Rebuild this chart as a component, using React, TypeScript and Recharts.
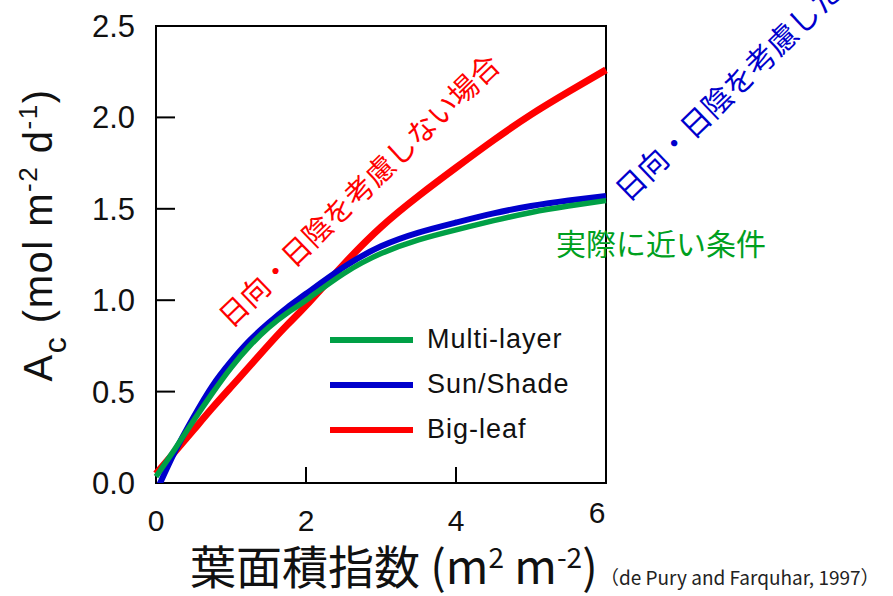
import React from 'react';
import { LineChart, Line, XAxis, YAxis, ReferenceArea, Legend } from 'recharts';

// Leaf area index (m2 m-2)
const lai = [0, 0.25, 0.5, 0.75, 1, 1.25, 1.5, 1.75, 2, 2.5, 3, 3.5, 4, 4.5, 5, 5.5, 6];
// Canopy assimilation Ac (mol m-2 d-1)
const multiLayer = [0.035, 0.185, 0.34, 0.49, 0.63, 0.75, 0.85, 0.93, 1.0, 1.145, 1.255, 1.33, 1.385, 1.435, 1.48, 1.515, 1.545];
const sunShade = [-0.05, 0.17, 0.36, 0.53, 0.665, 0.78, 0.875, 0.96, 1.035, 1.18, 1.295, 1.37, 1.425, 1.475, 1.515, 1.545, 1.57];
const bigLeaf = [0.05, 0.17, 0.29, 0.41, 0.525, 0.64, 0.755, 0.865, 0.97, 1.195, 1.4, 1.57, 1.725, 1.875, 2.015, 2.14, 2.26];

const xTicks = [0, 2, 4, 6];
const yTicks = [0, 0.5, 1, 1.5, 2, 2.5];
const seriesNames = ['Multi-layer', 'Sun/Shade', 'Big-leaf'];
const seriesColors = ['#00a046', '#0000cc', '#ff0000'];

const data = lai.map((x, i) => ({ lai: x, multi: multiLayer[i], sun: sunShade[i], big: bigLeaf[i] }));

const LATIN = '"Liberation Sans", Arial, sans-serif';
const CJK = '"Noto Sans CJK JP", "Noto Sans", sans-serif';

const YTick = (props: any) => {
  const { x, y, payload } = props;
  const v = payload.value as number;
  const mark = v > 0 && v < 2.5;
  return (
    <g>
      {mark && <line x1={x} x2={x + 19} y1={y} y2={y} stroke="#000" strokeWidth={2} />}
      <text x={x - 21} y={y + 11} textAnchor="end" fontSize={31} fontFamily={LATIN} fill="#111">
        {v.toFixed(1)}
      </text>
    </g>
  );
};

const XTick = (props: any) => {
  const { x, y, payload } = props;
  const v = payload.value as number;
  const last = v === 6;
  return (
    <g>
      {v > 0 && v < 6 && <line x1={x} x2={x} y1={y} y2={y - 16} stroke="#000" strokeWidth={2} />}
      <text x={last ? x - 9 : x} y={last ? y + 40 : y + 48} textAnchor="middle" fontSize={30} fontFamily={LATIN} fill="#111">
        {v}
      </text>
    </g>
  );
};

const LegendContent = (props: any) => {
  const payload = [...(props.payload || [])].sort(
    (a: any, b: any) => seriesNames.indexOf(a.value) - seriesNames.indexOf(b.value)
  );
  return (
    <div>
      {payload.map((p: any) => (
        <div key={p.value} style={{ display: 'flex', alignItems: 'center', height: 45 }}>
          <div style={{ width: 83, height: 6, background: p.color, marginRight: 14 }} />
          <span style={{ fontFamily: LATIN, fontSize: 27, letterSpacing: 1, color: '#111', lineHeight: '45px' }}>
            {p.value}
          </span>
        </div>
      ))}
    </div>
  );
};

export default function App() {
  return (
    <div style={{ position: 'absolute', left: 0, top: 0, width: 893, height: 596, background: '#fff' }}>
      <LineChart width={893} height={596} data={data} margin={{ top: 26, right: 287, bottom: 73, left: 0 }}>
        <XAxis
          dataKey="lai"
          type="number"
          domain={[0, 6]}
          ticks={xTicks}
          height={40}
          tickSize={0}
          tickMargin={0}
          axisLine={false}
          tickLine={false}
          tick={<XTick />}
          interval={0}
        />
        <YAxis
          type="number"
          domain={[0, 2.5]}
          ticks={yTicks}
          allowDataOverflow
          width={156}
          tickSize={0}
          tickMargin={0}
          axisLine={false}
          tickLine={false}
          tick={<YTick />}
          interval={0}
        />
        <ReferenceArea x1={0} x2={6} y1={0} y2={2.5} fill="none" fillOpacity={0} stroke="#000" strokeWidth={2} ifOverflow="visible" />
        <Line type="natural" dataKey="big" name={seriesNames[2]} stroke={seriesColors[2]} strokeWidth={7} dot={false} isAnimationActive={false} />
        <Line type="natural" dataKey="sun" name={seriesNames[1]} stroke={seriesColors[1]} strokeWidth={6} dot={false} isAnimationActive={false} />
        <Line type="natural" dataKey="multi" name={seriesNames[0]} stroke={seriesColors[0]} strokeWidth={5.5} dot={false} isAnimationActive={false} />
        <Legend
          layout="vertical"
          align="center"
          verticalAlign="middle"
          content={<LegendContent />}
          wrapperStyle={{ position: 'absolute', left: 330, top: 317, width: 280 }}
        />
      </LineChart>
      <svg width={893} height={596} style={{ position: 'absolute', left: 0, top: 0, pointerEvents: 'none' }}>
        <text transform="translate(52,235) rotate(-90)" textAnchor="middle" fontFamily={LATIN} fontSize={40} fill="#111" letterSpacing={1.5}>
          <tspan>A</tspan>
          <tspan dy={14} fontSize={32}>c</tspan>
          <tspan dy={-14}> (mol m</tspan>
          <tspan dy={-15} fontSize={26}>-2</tspan>
          <tspan dy={15}> d</tspan>
          <tspan dy={-15} fontSize={26}>-1</tspan>
          <tspan dy={15}>)</tspan>
        </text>
        <text x={190} y={584} fontFamily={CJK} fontSize={46} fill="#111">
          <tspan>葉面積指数 (m</tspan>
          <tspan dy={-16} fontSize={28}>2</tspan>
          <tspan dy={16}> m</tspan>
          <tspan dy={-16} fontSize={28}>-2</tspan>
          <tspan dy={16}>)</tspan>
        </text>
        <text x={600} y={585} fontFamily={CJK} fontSize={19} fill="#222">（de Pury and Farquhar, 1997）</text>
        <text transform="translate(222,320) rotate(-44)" dominantBaseline="central" fontFamily={CJK} fontSize={29} fill="#ff0000">
          日向・日陰を考慮しない場合
        </text>
        <text transform="translate(619,194) rotate(-44)" dominantBaseline="central" fontFamily={CJK} fontSize={30} fill="#0000cc">
          日向・日陰を考慮した場合
        </text>
        <text x={556} y={242} dominantBaseline="central" fontFamily={CJK} fontSize={30} fill="#00a01e">
          実際に近い条件
        </text>
      </svg>
    </div>
  );
}
